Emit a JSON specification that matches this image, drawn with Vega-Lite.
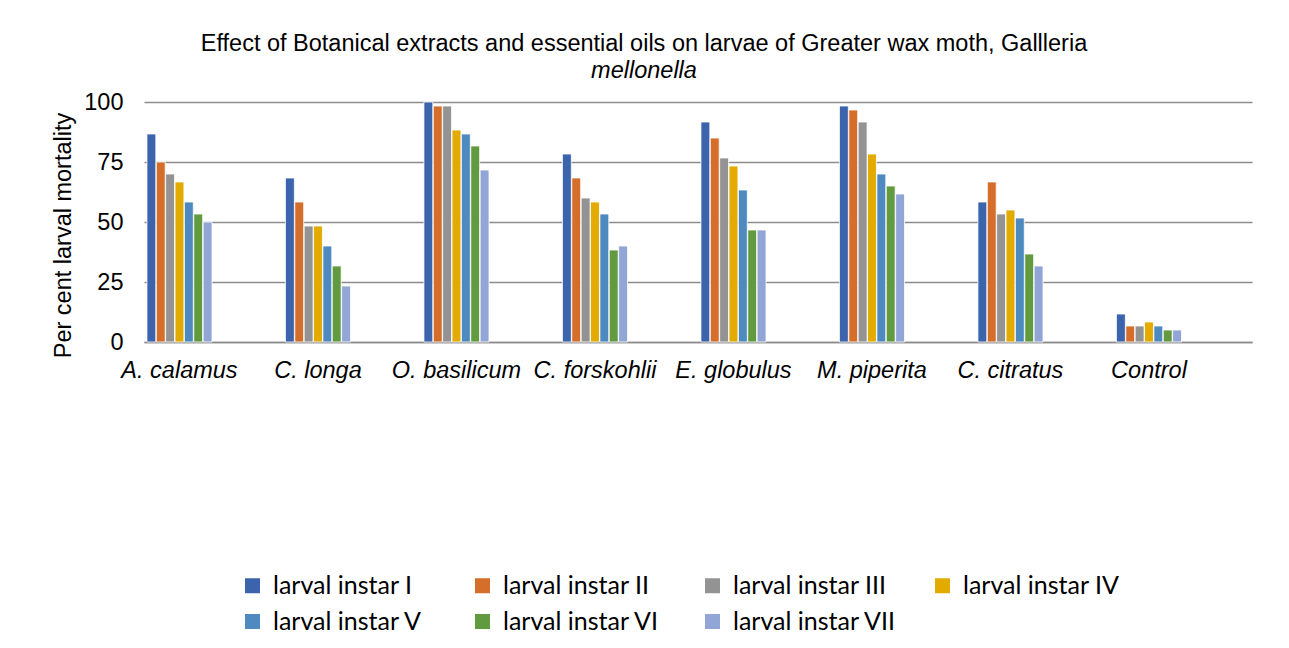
{
  "$schema": "https://vega.github.io/schema/vega-lite/v6.json",
  "width": 1108,
  "height": 240,
  "autosize": {"type": "none"},
  "padding": {"left": 144, "top": 102, "right": 37, "bottom": 306},
  "background": "white",
  "title": {
    "text": "Effect of Botanical extracts and essential oils on larvae of Greater wax moth, Gallleria",
    "subtitle": "mellonella",
    "anchor": "middle",
    "frame": "group",
    "dx": -54,
    "offset": 8,
    "font": "Liberation Sans",
    "fontSize": 23.5,
    "fontWeight": "normal",
    "color": "#000000",
    "subtitleFont": "Liberation Sans",
    "subtitleFontSize": 23.5,
    "subtitleFontStyle": "italic",
    "subtitleColor": "#000000",
    "subtitlePadding": 3
  },
  "data": {
    "values": [
      {"plant": "A. calamus", "instar": "larval instar I", "mortality": 86.67},
      {"plant": "A. calamus", "instar": "larval instar II", "mortality": 75},
      {"plant": "A. calamus", "instar": "larval instar III", "mortality": 70},
      {"plant": "A. calamus", "instar": "larval instar IV", "mortality": 66.67},
      {"plant": "A. calamus", "instar": "larval instar V", "mortality": 58.33},
      {"plant": "A. calamus", "instar": "larval instar VI", "mortality": 53.33},
      {"plant": "A. calamus", "instar": "larval instar VII", "mortality": 50},
      {"plant": "C. longa", "instar": "larval instar I", "mortality": 68.33},
      {"plant": "C. longa", "instar": "larval instar II", "mortality": 58.33},
      {"plant": "C. longa", "instar": "larval instar III", "mortality": 48.33},
      {"plant": "C. longa", "instar": "larval instar IV", "mortality": 48.33},
      {"plant": "C. longa", "instar": "larval instar V", "mortality": 40},
      {"plant": "C. longa", "instar": "larval instar VI", "mortality": 31.67},
      {"plant": "C. longa", "instar": "larval instar VII", "mortality": 23.33},
      {"plant": "O. basilicum", "instar": "larval instar I", "mortality": 100},
      {"plant": "O. basilicum", "instar": "larval instar II", "mortality": 98.33},
      {"plant": "O. basilicum", "instar": "larval instar III", "mortality": 98.33},
      {"plant": "O. basilicum", "instar": "larval instar IV", "mortality": 88.33},
      {"plant": "O. basilicum", "instar": "larval instar V", "mortality": 86.67},
      {"plant": "O. basilicum", "instar": "larval instar VI", "mortality": 81.67},
      {"plant": "O. basilicum", "instar": "larval instar VII", "mortality": 71.67},
      {"plant": "C. forskohlii", "instar": "larval instar I", "mortality": 78.33},
      {"plant": "C. forskohlii", "instar": "larval instar II", "mortality": 68.33},
      {"plant": "C. forskohlii", "instar": "larval instar III", "mortality": 60},
      {"plant": "C. forskohlii", "instar": "larval instar IV", "mortality": 58.33},
      {"plant": "C. forskohlii", "instar": "larval instar V", "mortality": 53.33},
      {"plant": "C. forskohlii", "instar": "larval instar VI", "mortality": 38.33},
      {"plant": "C. forskohlii", "instar": "larval instar VII", "mortality": 40},
      {"plant": "E. globulus", "instar": "larval instar I", "mortality": 91.67},
      {"plant": "E. globulus", "instar": "larval instar II", "mortality": 85},
      {"plant": "E. globulus", "instar": "larval instar III", "mortality": 76.67},
      {"plant": "E. globulus", "instar": "larval instar IV", "mortality": 73.33},
      {"plant": "E. globulus", "instar": "larval instar V", "mortality": 63.33},
      {"plant": "E. globulus", "instar": "larval instar VI", "mortality": 46.67},
      {"plant": "E. globulus", "instar": "larval instar VII", "mortality": 46.67},
      {"plant": "M. piperita", "instar": "larval instar I", "mortality": 98.33},
      {"plant": "M. piperita", "instar": "larval instar II", "mortality": 96.67},
      {"plant": "M. piperita", "instar": "larval instar III", "mortality": 91.67},
      {"plant": "M. piperita", "instar": "larval instar IV", "mortality": 78.33},
      {"plant": "M. piperita", "instar": "larval instar V", "mortality": 70},
      {"plant": "M. piperita", "instar": "larval instar VI", "mortality": 65},
      {"plant": "M. piperita", "instar": "larval instar VII", "mortality": 61.67},
      {"plant": "C. citratus", "instar": "larval instar I", "mortality": 58.33},
      {"plant": "C. citratus", "instar": "larval instar II", "mortality": 66.67},
      {"plant": "C. citratus", "instar": "larval instar III", "mortality": 53.33},
      {"plant": "C. citratus", "instar": "larval instar IV", "mortality": 55},
      {"plant": "C. citratus", "instar": "larval instar V", "mortality": 51.67},
      {"plant": "C. citratus", "instar": "larval instar VI", "mortality": 36.67},
      {"plant": "C. citratus", "instar": "larval instar VII", "mortality": 31.67},
      {"plant": "Control", "instar": "larval instar I", "mortality": 11.67},
      {"plant": "Control", "instar": "larval instar II", "mortality": 6.67},
      {"plant": "Control", "instar": "larval instar III", "mortality": 6.67},
      {"plant": "Control", "instar": "larval instar IV", "mortality": 8.33},
      {"plant": "Control", "instar": "larval instar V", "mortality": 6.67},
      {"plant": "Control", "instar": "larval instar VI", "mortality": 5},
      {"plant": "Control", "instar": "larval instar VII", "mortality": 5}
    ]
  },
  "mark": {"type": "bar", "stroke": "white", "strokeWidth": 0.8},
  "encoding": {
    "x": {
      "field": "plant",
      "type": "nominal",
      "sort": ["A. calamus", "C. longa", "O. basilicum", "C. forskohlii", "E. globulus", "M. piperita", "C. citratus", "Control"],
      "scale": {"paddingInner": 0.53, "paddingOuter": 0.265, "align": 0.04},
      "axis": {
        "title": null,
        "labelAngle": 0,
        "labelFont": "Liberation Sans",
        "labelFontSize": 23.5,
        "labelFontStyle": "italic",
        "labelColor": "#000000",
        "labelPadding": 16,
        "ticks": false,
        "tickSize": 0,
        "domainColor": "#8c8c8c",
        "domainWidth": 1.3,
        "labelLimit": 300
      }
    },
    "xOffset": {
      "field": "instar",
      "type": "nominal",
      "sort": ["larval instar I", "larval instar II", "larval instar III", "larval instar IV", "larval instar V", "larval instar VI", "larval instar VII"],
      "scale": {"paddingInner": 0.05, "paddingOuter": 0}
    },
    "y": {
      "field": "mortality",
      "type": "quantitative",
      "scale": {"domain": [0, 100], "nice": false},
      "axis": {
        "title": "Per cent larval mortality",
        "values": [0, 25, 50, 75, 100],
        "titleFont": "Liberation Sans",
        "titleFontSize": 23.5,
        "titleFontWeight": "normal",
        "titleColor": "#000000",
        "titlePadding": 8,
        "titleY": 133,
        "labelFont": "Liberation Sans",
        "labelFontSize": 23.5,
        "labelColor": "#000000",
        "labelPadding": 21,
        "ticks": false,
        "tickSize": 0,
        "domain": false,
        "grid": true,
        "gridColor": "#8c8c8c",
        "gridWidth": 1.3
      }
    },
    "color": {
      "field": "instar",
      "type": "nominal",
      "sort": ["larval instar I", "larval instar II", "larval instar III", "larval instar IV", "larval instar V", "larval instar VI", "larval instar VII"],
      "scale": {
        "domain": ["larval instar I", "larval instar II", "larval instar III", "larval instar IV", "larval instar V", "larval instar VI", "larval instar VII"],
        "range": ["#3C64AD", "#D56E2B", "#939393", "#E3AB00", "#4E8AC0", "#629A40", "#91A6D7"]
      },
      "legend": {
        "title": null,
        "orient": "none",
        "legendX": 96,
        "legendY": 471,
        "direction": "horizontal",
        "columns": 4,
        "gridAlign": "all",
        "columnPadding": 33,
        "rowPadding": 10,
        "padding": 0,
        "symbolType": "square",
        "symbolSize": 225,
        "symbolStrokeWidth": 0,
        "symbolOffset": 0,
        "labelOffset": 8,
        "labelFont": "Lato",
        "labelFontSize": 25,
        "labelColor": "#000000",
        "labelLimit": 300
      }
    }
  },
  "config": {
    "view": {"stroke": null}
  }
}
